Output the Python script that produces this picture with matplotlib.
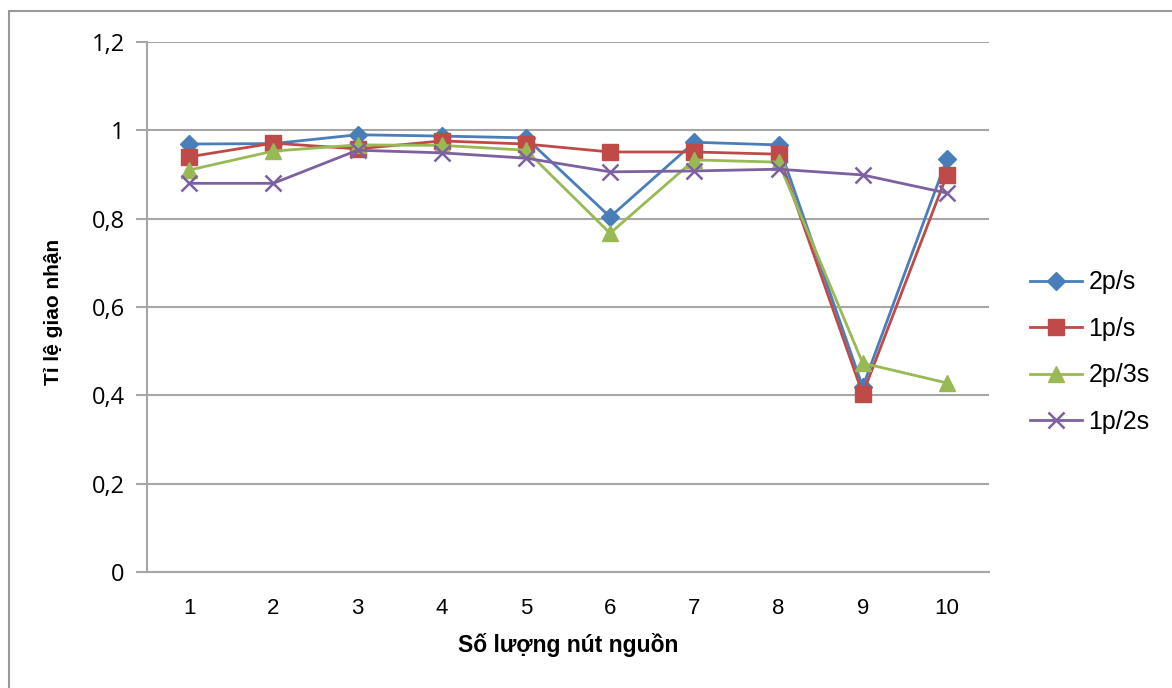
import matplotlib
matplotlib.use("Agg")
import matplotlib.pyplot as plt
from matplotlib.patches import Rectangle
from matplotlib.ticker import FuncFormatter

categories = [1, 2, 3, 4, 5, 6, 7, 8, 9, 10]
s_2ps = [0.969, 0.970, 0.990, 0.987, 0.983, 0.804, 0.973, 0.967, 0.419, 0.935]
s_1ps = [0.940, 0.971, 0.958, 0.976, 0.969, 0.951, 0.951, 0.946, 0.403, 0.899]
s_2p3s = [0.910, 0.953, 0.967, 0.966, 0.955, 0.767, 0.933, 0.928, 0.473, 0.428]
s_1p2s = [0.880, 0.880, 0.955, 0.949, 0.937, 0.906, 0.908, 0.912, 0.899, 0.858]
series_names = ["2p/s", "1p/s", "2p/3s", "1p/2s"]
y_ticks = [0, 0.2, 0.4, 0.6, 0.8, 1.0, 1.2]

W, H = 1172, 688
fig = plt.figure(figsize=(W / 100, H / 100), dpi=100)
ax = fig.add_axes([147 / W, 1 - 572 / H, (989 - 147) / W, (572 - 42) / H])

# outer frame
fig.patches.append(Rectangle((9 / W, -0.1), 1.2, 1 - 11 / H + 0.1, transform=fig.transFigure,
                             fill=False, edgecolor="#999999", linewidth=1.5))

styles = [
    dict(color="#4A7EBB", marker="D", markersize=9),
    dict(color="#BE4B48", marker="s", markersize=11),
    dict(color="#98B954", marker="^", markersize=11),
    dict(color="#7D60A0", marker="x", markersize=11, markeredgewidth=1.8),
]
for name, vals, st in zip(series_names, [s_2ps, s_1ps, s_2p3s, s_1p2s], styles):
    ax.plot(categories, vals, linewidth=2, label=name, **st)

ax.set_xlim(0.5, 10.5)
ax.set_ylim(0, 1.2)
ax.set_yticks(y_ticks)
ax.yaxis.set_major_formatter(FuncFormatter(lambda v, p: ("%g" % round(v, 1)).replace(".", ",")))
ax.set_xticks(categories)
ax.grid(axis="y", color="#A6A6A6", linewidth=1.5)
ax.set_axisbelow(True)
for sp in ["top", "right"]:
    ax.spines[sp].set_visible(False)
for sp in ["left", "bottom"]:
    ax.spines[sp].set_color("#A6A6A6")
    ax.spines[sp].set_linewidth(1.5)
ax.tick_params(axis="y", length=8, width=1.5, color="#A6A6A6", labelsize=17, pad=8)
ax.tick_params(axis="x", length=0, labelsize=16, pad=19)
for lab in ax.get_yticklabels():
    lab.set_fontfamily("Open Sans")
for lab in ax.get_xticklabels():
    lab.set_fontfamily("Liberation Sans")

ax.set_xlabel("Số lượng nút nguồn", fontsize=16.5, fontweight="bold", family="Liberation Sans", labelpad=10)
fig.text(54 / W, 1 - 312 / H, "Tỉ lệ giao nhận", rotation=90, ha="center", va="center",
         fontsize=15, fontweight="bold", family="Liberation Sans")

leg = fig.legend(loc="center left", bbox_to_anchor=(1030 / W, 1 - 352 / H), frameon=False,
                 prop={"family": "Liberation Sans", "size": 18}, labelspacing=0.9,
                 handlelength=2.08, handletextpad=0.25, borderaxespad=0, borderpad=0)

fig.savefig("out.png", dpi=100)
